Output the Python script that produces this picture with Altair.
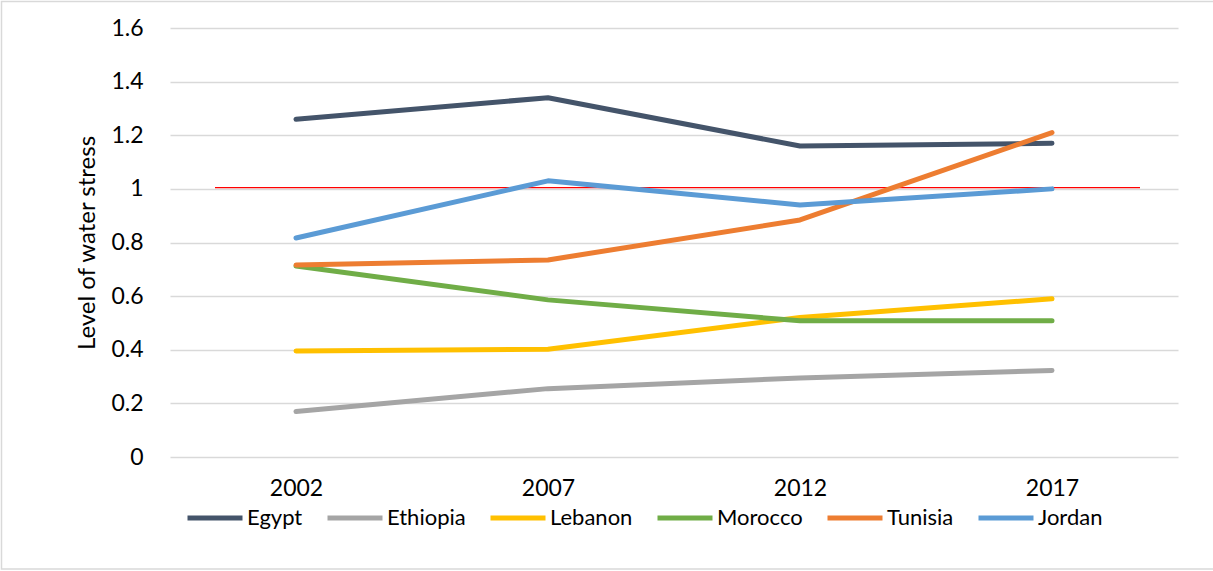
import altair as alt
import pandas as pd

years = ["2002", "2007", "2012", "2017"]
countries = ["Egypt", "Ethiopia", "Lebanon", "Morocco", "Tunisia", "Jordan"]
colors = ["#44546A", "#A5A5A5", "#FFC000", "#70AD47", "#ED7D31", "#5B9BD5"]
egypt = [1.26, 1.34, 1.16, 1.17]
ethiopia = [0.17, 0.255, 0.295, 0.323]
lebanon = [0.395, 0.402, 0.52, 0.59]
morocco = [0.712, 0.586, 0.508, 0.508]
tunisia = [0.716, 0.735, 0.884, 1.21]
jordan = [0.817, 1.03, 0.94, 1.0]
threshold = [1.005]

series = [egypt, ethiopia, lebanon, morocco, tunisia, jordan]
rows = []
for c, vals in zip(countries, series):
    for y, v in zip(years, vals):
        rows.append({"Year": y, "Country": c, "Value": v})
df = pd.DataFrame(rows)

FONT = "Lato"
FS = 23

lines = alt.Chart(df).mark_line(strokeWidth=5, strokeCap="round", strokeJoin="round").encode(
    x=alt.X("Year:O", sort=years,
            scale=alt.Scale(type="point", padding=0.5),
            axis=alt.Axis(title=None, labelAngle=0, ticks=False, domain=False,
                          labelFontSize=FS, labelColor="#000000", labelPadding=20,
                          labelFont=FONT, grid=False)),
    y=alt.Y("Value:Q", scale=alt.Scale(domain=[0, 1.6]),
            axis=alt.Axis(title="Level of water stress", values=[0, 0.2, 0.4, 0.6, 0.8, 1, 1.2, 1.4, 1.6],
                          format=".1~f",
                          ticks=False, domain=False, labelFontSize=FS, labelColor="#000000",
                          labelPadding=27, labelFont=FONT, titleFont=FONT, titleFontSize=24,
                          titleFontWeight="normal", titleColor="#000000", titlePadding=11,
                          gridColor="#D9D9D9", gridWidth=1.3)),
    color=alt.Color("Country:N", sort=countries,
                    scale=alt.Scale(domain=countries, range=colors),
                    legend=alt.Legend(title=None, orient="none", direction="horizontal",
                                      legendX=15, legendY=460, symbolType="stroke",
                                      symbolSize=3025, symbolStrokeWidth=5,
                                      labelFontSize=22, labelFont=FONT, labelColor="#000000",
                                      labelOffset=2, columnPadding=14, columns=6)),
    detail="Country:N",
)

rule_df = pd.DataFrame({"t": threshold})
rule = alt.Chart(rule_df).mark_rule(color="#FF0000", strokeWidth=1.3).encode(
    y="t:Q", x=alt.value(45), x2=alt.value(970)
)

border = alt.Chart(rule_df).mark_rect(fill=None, stroke="#D9D9D9", strokeWidth=1.5).encode(
    x=alt.value(-168.5), x2=alt.value(1060), y=alt.value(-26.5), y2=alt.value(541)
)

chart = alt.layer(border, rule, lines).properties(
    width=1008, height=429,
    autosize=alt.AutoSizeParams(type="none"),
    padding={"left": 170, "top": 28, "right": 35, "bottom": 114},
    background="#FFFFFF",
).configure_view(stroke=None)

chart.save("out.html", embed_options={"renderer": "svg", "actions": False})
